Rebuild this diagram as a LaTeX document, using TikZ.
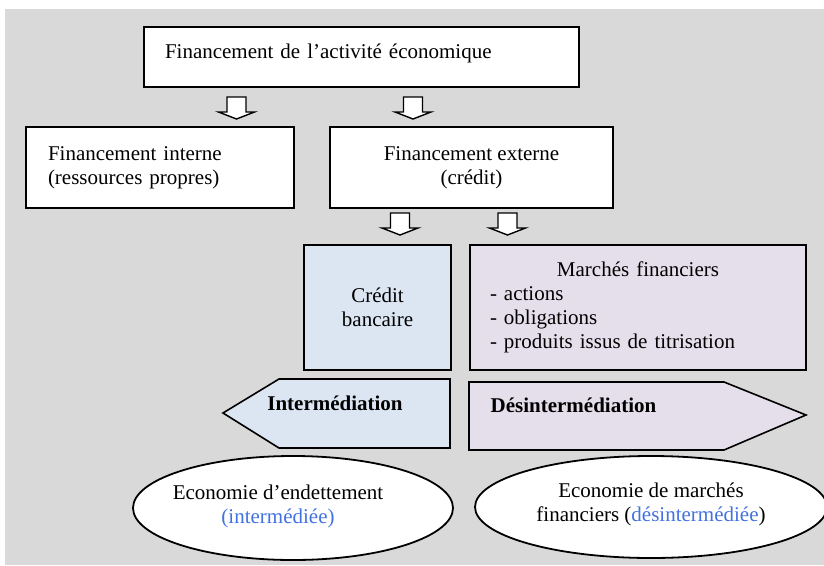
\documentclass[tikz,border=0pt]{standalone}
\usepackage{fontspec}
\setmainfont{Liberation Serif}
\usetikzlibrary{shapes.geometric}
\definecolor{bggray}{HTML}{D9D9D9}
\definecolor{bankblue}{HTML}{DCE6F2}
\definecolor{marketlilac}{HTML}{E5DFEC}
\definecolor{noteblue}{RGB}{66,114,225}

\begin{document}
\begin{tikzpicture}[x=1pt,y=-1pt,
    every node/.style={font=\fontsize{21}{24}\selectfont},
    box/.style={draw,line width=1.9pt,fill=white,inner sep=0pt},
    oval/.style={draw,ellipse,line width=1.8pt,fill=white,inner sep=0pt},
    flowlabel/.style={font=\fontsize{21}{24}\selectfont\bfseries},
    hollow/.pic={\draw[line width=1.4pt,fill=white,line join=miter]
      (-9.5,0) -- (9.5,0) -- (9.5,15) -- (18,15) -- (0,22) -- (-18,15) -- (-9.5,15) -- cycle;}]
  \useasboundingbox (0,0) rectangle (824,565);
  \fill[bggray] (5,9) rectangle (824,565);

  % boxes
  \node[box, minimum width=435pt, minimum height=60pt, text width=393pt, inner xsep=21pt,
        align=left, text height=12pt, text depth=10pt] (fin) at (361.5,57)
    {Financement de l’activité économique};
  \node[box, minimum width=268pt, minimum height=81pt, text width=224pt, inner xsep=22pt,
        align=left] (int) at (160,167.5) {Financement interne\\(ressources propres)};
  \node[box, minimum width=283pt, minimum height=81pt, align=center] (ext) at (471.5,167.5)
    {Financement externe\\(crédit)};
  \node[box, fill=bankblue, minimum width=147pt, minimum height=125pt, align=center] (bank)
    at (377.5,307.5) {Crédit\\bancaire};
  \node[box, fill=marketlilac, minimum width=336pt, minimum height=125pt, text width=296pt,
        inner xsep=20pt, align=center] (mkt) at (638,307.5)
    {Marchés financiers\\\makebox[296pt][l]{- actions}\\\makebox[296pt][l]{- obligations}\\
     \makebox[296pt][l]{- produits issus de titrisation}};

  % hollow arrows
  \pic (a1) at (236.5,97) {hollow};
  \pic (a2) at (413,97) {hollow};
  \pic (a3) at (400,213) {hollow};
  \pic (a4) at (507.5,213) {hollow};

  % intermediation / desintermediation
  \draw[line width=1.6pt, fill=bankblue]
    (450,379) -- (279,379) -- (223,413) -- (279,448) -- (450,448) -- cycle;
  \draw[line width=1.6pt, fill=marketlilac]
    (469,382) -- (724,382) -- (806,415) -- (724,450) -- (469,450) -- cycle;
  \node[flowlabel] (inter) at (335,403) {Intermédiation};
  \node[flowlabel] (desinter) at (573.5,405) {Désintermédiation};

  % economies
  \node[oval, minimum width=320pt, minimum height=104pt] (eco1) at (293,508) {};
  \node[oval, minimum width=352pt, minimum height=102pt] (eco2) at (651,507) {};
  \node[align=center] (eco1txt) at (278,506)
    {Economie d’endettement\\\textcolor{noteblue}{(intermédiée)}};
  \node[align=center] (eco2txt) at (651,504.5)
    {Economie de marchés\\financiers (\textcolor{noteblue}{désintermédiée})};
\end{tikzpicture}
\end{document}
